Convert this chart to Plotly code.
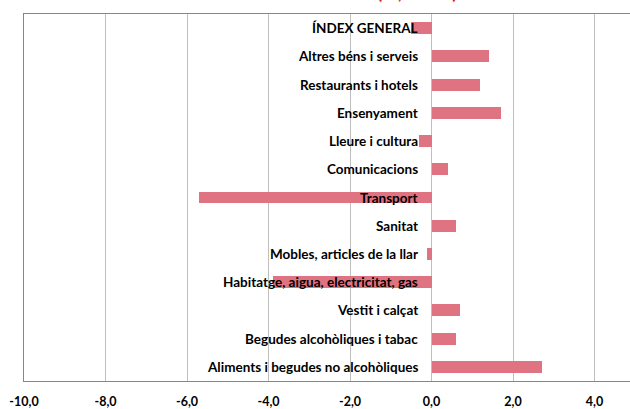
import plotly.graph_objects as go

categories = [
    "ÍNDEX GENERAL",
    "Altres béns i serveis",
    "Restaurants i hotels",
    "Ensenyament",
    "Lleure i cultura",
    "Comunicacions",
    "Transport",
    "Sanitat",
    "Mobles, articles de la llar",
    "Habitatge, aigua, electricitat, gas",
    "Vestit i calçat",
    "Begudes alcohòliques i tabac",
    "Aliments i begudes no alcohòliques",
]
values = [-0.5, 1.4, 1.2, 1.7, -0.3, 0.4, -5.7, 0.6, -0.1, -3.9, 0.7, 0.6, 2.7]
tick_vals = [-10, -8, -6, -4, -2, 0, 2, 4]
tick_text = ["-10,0", "-8,0", "-6,0", "-4,0", "-2,0", "0,0", "2,0", "4,0"]
title_text = "(%, anual)"

BAR = "#E07381"
FONT = "Lato"

fig = go.Figure()
fig.add_trace(go.Bar(
    x=values, y=categories, orientation="h",
    marker=dict(color=BAR, line=dict(width=0)),
    width=0.42, hoverinfo="x+y",
))

for c in categories:
    fig.add_annotation(
        x=0, y=c, xref="x", yref="y", text="<b>%s</b>" % c,
        showarrow=False, xanchor="right", yanchor="middle", xshift=-12,
        font=dict(family=FONT, size=13.5, color="#000000"),
    )

fig.add_annotation(
    x=0.65, y=1, xref="paper", yref="paper", text="<b>%s</b>" % title_text,
    showarrow=False, xanchor="center", yanchor="bottom", yshift=9,
    font=dict(family=FONT, size=19, color="#E02020"),
)

fig.update_layout(
    width=630, height=409,
    margin=dict(l=24, r=0, t=14, b=19),
    paper_bgcolor="white", plot_bgcolor="white",
    showlegend=False, bargap=0,
    font=dict(family=FONT, size=12, color="#000000"),
)
fig.update_xaxes(
    range=[-10, 4.87], tickmode="array", tickvals=tick_vals, ticktext=tick_text,
    tickfont=dict(family=FONT, size=12.5, color="#000000", weight="bold"),
    showgrid=True, gridcolor="#BFBFBF", gridwidth=1, zeroline=False,
    showline=True, linecolor="#868686", linewidth=1, mirror=True,
    ticks="", ticklabelstandoff=9,
)
fig.update_yaxes(
    autorange="reversed", showticklabels=False, showgrid=False, zeroline=False,
    showline=True, linecolor="#868686", linewidth=1, mirror=False, ticks="",
)

fig.write_html(
    "out.html",
    config={"displayModeBar": False},
    post_script="document.body.style.margin='0';document.body.style.overflow='hidden';",
)
